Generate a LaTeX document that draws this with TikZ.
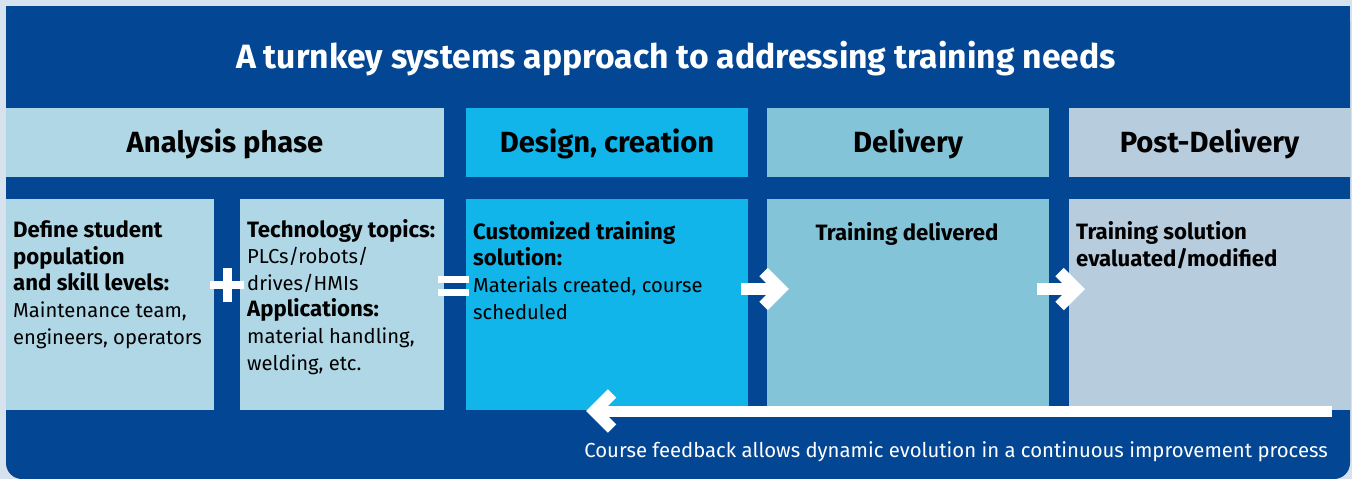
\documentclass[tikz,border=0pt]{standalone}
\usepackage{fontspec}
\setmainfont{Fira Sans}
\usetikzlibrary{calc}
\definecolor{dkblue}{HTML}{034693}
\definecolor{anacol}{HTML}{B0D7E5}
\definecolor{descol}{HTML}{12B5EA}
\definecolor{delcol}{HTML}{83C4D8}
\definecolor{postcol}{HTML}{B7CCDD}
\definecolor{outercol}{HTML}{D6E2EE}
\newcommand\bodybf[1]{{\fontsize{22.2}{26.6}\selectfont\bfseries #1}}
\begin{document}
\begin{tikzpicture}[x=1pt,y=-1pt,
  panel/.style={inner sep=0pt, outer sep=0pt, anchor=north west, draw=none},
  headtext/.style={font=\fontsize{29.2}{32}\selectfont\bfseries, text=black},
  bodytext/.style={font=\fontsize{20.2}{26.6}\selectfont, align=left, inner sep=0pt, anchor=base west, text=black},
  whitearrow/.style={draw=white, line width=12pt, line join=miter, line cap=butt},
  whitebar/.style={fill=white}
]
\useasboundingbox (0,0) rectangle (1352,479);
\fill[outercol] (0,0) rectangle (1352,479);
\fill[dkblue, rounded corners=16pt] (6,6) rectangle (1350,479);
\fill[dkblue] (6,6) rectangle (1350,100);

% title
\node[font=\fontsize{33.7}{38}\selectfont\bfseries, text=white, anchor=base, inner sep=0pt] (title) at (676,68)
  {A turnkey systems approach to addressing training needs};

% headers
\node[panel, fill=anacol, minimum width=438pt, minimum height=69pt] (hana) at (6,108) {};
\node[panel, fill=descol, minimum width=282pt, minimum height=69pt] (hdes) at (466,108) {};
\node[panel, fill=delcol, minimum width=282pt, minimum height=69pt] (hdel) at (767,108) {};
\node[panel, fill=postcol, minimum width=281pt, minimum height=69pt] (hpost) at (1069,108) {};
\node[headtext] (tana) at ($(hana.center)+(0,1)$) {Analysis phase};
\node[headtext] (tdes) at ($(hdes.center)+(0,1)$) {Design, creation};
\node[headtext] (tdel) at ($(hdel.center)+(0,1)$) {Delivery};
\node[headtext] (tpost) at ($(hpost.center)+(0,1)$) {Post-Delivery};

% lower boxes
\node[panel, fill=anacol, minimum width=208pt, minimum height=211pt] (a1) at (6,199) {};
\node[panel, fill=anacol, minimum width=204pt, minimum height=211pt] (a2) at (240,199) {};
\node[panel, fill=descol, minimum width=282pt, minimum height=211pt] (bdes) at (466,199) {};
\node[panel, fill=delcol, minimum width=282pt, minimum height=211pt] (bdel) at (767,199) {};
\node[panel, fill=postcol, minimum width=281pt, minimum height=211pt] (bpost) at (1069,199) {};

% texts (anchor base = last line's baseline)
\node[bodytext] (ta1) at (13,344) {\bodybf{Define student}\\\bodybf{population}\\\bodybf{and skill levels:}\\Maintenance team,\\engineers, operators};
\node[bodytext] (ta2) at (247,370) {\bodybf{Technology topics:}\\PLCs/robots/\\drives/HMIs\\\bodybf{Applications:}\\material handling,\\welding, etc.};
\node[bodytext] (tdesb) at (473,319) {\bodybf{Customized training}\\\bodybf{solution:}\\Materials created, course\\scheduled};
\node[bodytext, anchor=base] (tdelb) at (907,240) {\bodybf{Training delivered}};
\node[bodytext] (tpostb) at (1076,266) {\bodybf{Training solution}\\\bodybf{evaluated/modified}};

% plus and equals
\fill[white] (210,281) rectangle (244,289);
\fill[white] (223,268) rectangle (231.5,302);
\fill[white] (438,276) rectangle (469,282.5);
\fill[white] (438,289) rectangle (469,295.5);

% arrows between boxes
\coordinate (ar1a) at (741,289);
\coordinate (ar1v) at (780.5,289);
\fill[white] ($(ar1a)+(0,-6)$) rectangle ($(ar1v)+(0.5,6)$);
\draw[whitearrow] ($(ar1v)+(-17,-17)$) -- (ar1v) -- ($(ar1v)+(-17,17)$);

\coordinate (ar2a) at (1037,289);
\coordinate (ar2v) at (1076.5,289);
\fill[white] ($(ar2a)+(0,-6)$) rectangle ($(ar2v)+(0.5,6)$);
\draw[whitearrow] ($(ar2v)+(-17,-17)$) -- (ar2v) -- ($(ar2v)+(-17,17)$);

% feedback arrow
\coordinate (fba) at (1332,411);
\coordinate (fbv) at (594.5,411);
\fill[white] ($(fba)+(0,-5.5)$) rectangle ($(fbv)+(0,5.5)$);
\draw[whitearrow] ($(fbv)+(17.5,-17.5)$) -- (fbv) -- ($(fbv)+(17.5,17.5)$);

\node[font=\fontsize{20.3}{24}\selectfont, text=white, anchor=base east, inner sep=0pt] (fbtext) at (1328,457)
  {Course feedback allows dynamic evolution in a continuous improvement process};
\end{tikzpicture}
\end{document}
